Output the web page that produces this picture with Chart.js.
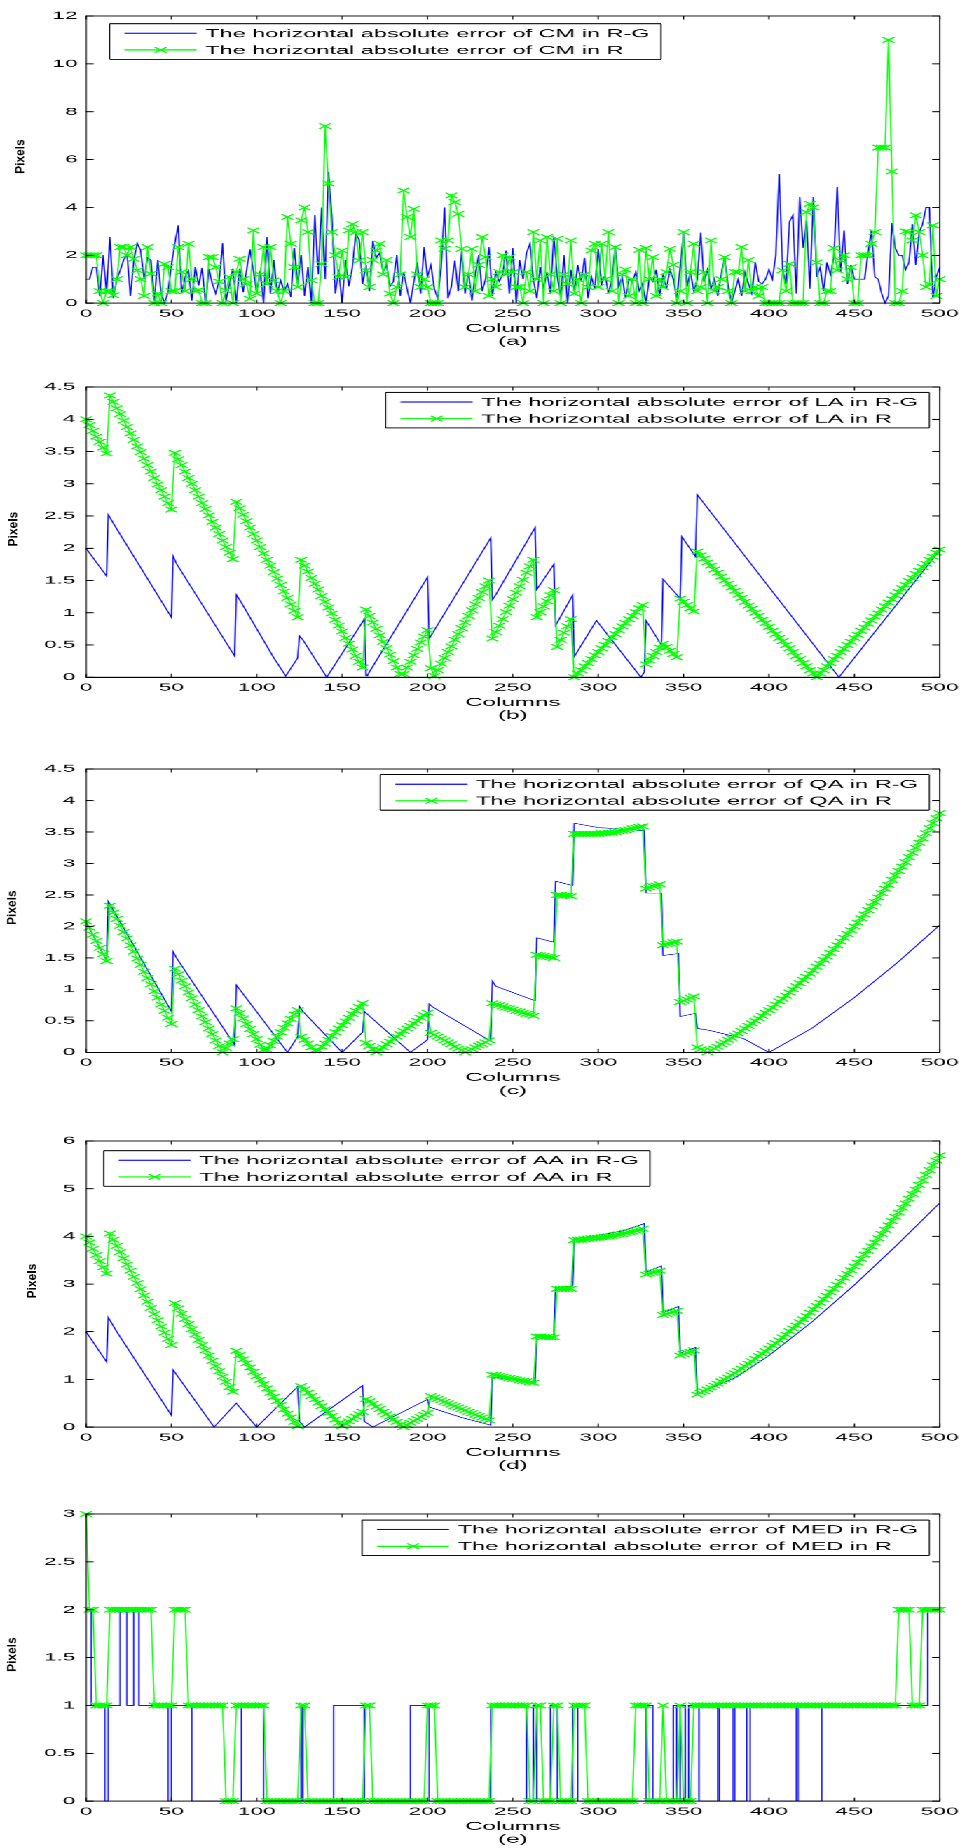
<!DOCTYPE html>
<html>
<head>
<meta charset="utf-8">
<title>Horizontal absolute error</title>
<script src="https://cdn.jsdelivr.net/npm/chart.js@4.4.1/dist/chart.umd.min.js"></script>
<style>
  html, body { margin: 0; padding: 0; background: #fff; overflow: hidden; width: 967px; height: 1848px; }
  /* the figure is laid out on a narrow sheet and widened 2.1x, like the exported figure */
  #sheet { position: absolute; left: 0; top: 0; width: 460px; height: 1848px; transform: scaleX(2.10217); transform-origin: 0 0; }
  #sheet canvas { position: absolute; left: 0; }
</style>
</head>
<body>
<div id="sheet">
  <canvas id="pa" width="460" height="345" style="top:4px"></canvas>
  <canvas id="pb" width="460" height="348" style="top:375px"></canvas>
  <canvas id="pc" width="460" height="341" style="top:757px"></canvas>
  <canvas id="pd" width="460" height="344" style="top:1129px"></canvas>
  <canvas id="pe" width="460" height="345" style="top:1502px"></canvas>
</div>
<script>
// ---- axes ----
const xTicks = [0, 50, 100, 150, 200, 250, 300, 350, 400, 450, 500];
const yTicksCM = [0, 2, 4, 6, 8, 10, 12];
const yTicksLA = [0, 0.5, 1, 1.5, 2, 2.5, 3, 3.5, 4, 4.5];
const yTicksQA = [0, 0.5, 1, 1.5, 2, 2.5, 3, 3.5, 4, 4.5];
const yTicksAA = [0, 1, 2, 3, 4, 5, 6];
const yTicksMED = [0, 0.5, 1, 1.5, 2, 2.5, 3];

// ---- legend texts ----
const labelsCM = ['The horizontal absolute error of CM in R-G', 'The horizontal absolute error of CM in R'];
const labelsLA = ['The horizontal absolute error of LA in R-G', 'The horizontal absolute error of LA in R'];
const labelsQA = ['The horizontal absolute error of QA in R-G', 'The horizontal absolute error of QA in R'];
const labelsAA = ['The horizontal absolute error of AA in R-G', 'The horizontal absolute error of AA in R'];
const labelsMED = ['The horizontal absolute error of MED in R-G', 'The horizontal absolute error of MED in R'];

// columns sampled every STEP columns (0, 2, 4, ... 500)
const STEP = 2;

// (a) CM, R-G (blue), one value per sampled column
const cmRG = [
  1.0,1.0,1.5,1.5,0.3,2.0,0.46,2.76,0.2,1.0,
  1.36,1.8,2.06,0.3,1.8,2.5,2.2,1.0,1.9,1.8,
  0.1,1.8,0.4,0.0,0.45,1.6,2.5,3.25,0.4,1.1,
  1.36,0.1,1.5,0.74,1.48,0.0,1.44,0.8,0.4,0.95,
  2.5,0.1,0.8,1.44,0.0,1.44,0.45,1.36,2.25,1.36,
  0.4,1.36,0.0,2.76,0.4,1.8,0.4,0.95,0.5,0.8,
  0.25,2.3,0.8,2.0,0.3,1.5,0.0,3.67,1.2,4.0,
  1.0,5.48,3.6,0.4,1.4,0.0,1.8,0.7,1.5,2.9,
  2.65,0.8,1.6,0.5,2.6,1.9,2.1,1.3,1.6,0.7,
  0.9,2.0,0.3,1.3,0.6,0.0,0.9,1.7,0.4,2.34,
  1.1,1.6,0.6,0.2,1.5,4.0,0.2,0.7,1.78,0.5,
  2.2,0.4,1.3,0.1,1.2,2.0,0.5,1.0,2.34,0.3,
  1.3,0.9,1.2,2.2,0.4,2.3,0.0,1.8,1.0,2.1,
  2.48,1.0,0.2,1.5,0.6,1.3,0.4,2.76,1.1,0.3,
  2.0,0.0,1.4,0.5,1.6,0.9,1.9,0.2,1.1,0.6,
  2.27,0.8,1.2,0.4,1.0,2.4,0.7,1.1,0.2,1.0,
  0.9,1.3,0.5,0.8,0.0,1.1,0.9,1.4,0.3,1.2,
  0.6,1.4,1.0,0.2,1.5,2.95,0.7,1.3,0.5,1.0,
  2.95,0.9,1.4,0.6,1.0,0.3,1.2,1.93,0.8,0.0,
  0.5,1.0,0.3,1.3,0.8,0.4,1.7,0.9,0.8,1.0,
  1.4,1.0,2.0,5.4,1.4,0.8,3.4,3.67,0.4,4.43,
  2.3,3.45,0.6,4.43,1.1,1.5,0.5,1.7,1.2,1.9,
  4.85,1.3,3.04,0.8,1.6,1.0,1.0,1.0,1.0,2.06,
  3.04,1.1,1.0,0.4,0.0,0.3,3.35,2.3,2.0,2.0,
  1.4,1.7,3.3,1.6,2.97,3.3,4.0,4.0,0.2,1.1,
  1.5
];
// (a) CM, R (green)
const cmR = [
  2.0,2.0,2.0,2.0,0.5,0.0,0.5,0.5,0.33,1.0,
  2.34,2.34,2.0,2.34,1.85,1.37,1.0,0.3,2.34,1.23,
  0.0,0.4,0.0,1.64,1.5,0.5,0.5,2.34,1.3,0.5,
  2.48,1.0,0.5,0.55,0.0,0.0,1.92,1.92,1.5,0.9,
  0.0,0.53,1.09,0.0,1.3,1.85,1.0,0.8,0.18,3.04,
  0.4,1.2,2.34,0.8,2.34,0.95,0.5,0.0,0.5,3.6,
  2.48,1.5,0.67,3.46,4.0,2.97,0.95,0.0,0.0,1.64,
  7.4,5.0,2.97,2.0,1.09,2.2,1.09,3.04,3.3,2.97,
  1.78,2.97,1.37,0.67,1.8,2.2,2.48,1.2,1.8,0.4,
  0.0,0.67,1.2,4.71,3.6,2.76,3.94,1.2,0.67,1.0,
  0.67,0.0,0.0,0.0,2.62,2.27,2.62,4.5,4.22,3.73,
  2.27,0.67,1.2,2.27,0.5,1.6,2.76,1.92,0.3,1.0,
  0.67,1.3,2.0,1.2,1.92,1.3,0.67,0.67,0.0,1.3,
  0.5,2.97,1.0,2.62,0.0,2.76,1.2,0.5,2.69,0.0,
  1.2,0.8,2.62,0.4,1.0,0.0,1.2,0.67,2.2,2.48,
  0.67,2.48,1.0,2.97,0.5,2.34,0.0,1.2,1.4,0.3,
  1.0,0.0,2.23,0.0,2.3,1.0,1.92,0.3,1.0,0.67,
  1.3,2.27,1.6,0.0,0.5,2.97,0.0,1.3,2.48,0.5,
  0.67,1.3,0.0,2.62,0.5,0.67,1.0,1.92,0.5,0.0,
  1.3,1.3,2.34,0.5,1.8,0.5,0.67,0.3,0.67,0.0,
  0.0,0.0,0.0,0.0,1.37,0.5,1.64,0.0,0.0,0.0,
  0.0,3.8,4.15,4.0,1.7,0.0,0.0,0.5,0.5,2.3,
  1.37,1.78,2.0,1.0,1.5,0.0,0.0,2.0,2.0,2.0,
  2.48,2.97,6.5,6.5,6.5,11.0,5.5,0.0,0.0,0.5,
  3.0,2.97,2.62,3.67,2.97,2.0,0.67,0.8,3.25,0.3,
  1.0
];

// (b) LA, R-G (blue): [column, value] corners of the trace
const laRG = [[0,2.0],[12,1.57],[13,2.52],[18,2.3],[50,0.93],[51,1.88],[53,1.76],[87,0.33],[88,1.28],[90,1.2],
  [110,0.3],[117,0.02],[124,0.3],[125,0.64],[127,0.58],[141,0.0],[163,0.9],[164,0.02],[165,0.04],[200,1.55],
  [201,0.6],[237,2.16],[238,1.2],[240,1.28],[263,2.32],[264,1.36],[274,1.75],[275,0.8],[285,1.27],[286,0.32],
  [299,0.88],[325,0.0],[327,0.08],[328,0.88],[337,0.5],[338,1.52],[348,1.22],[349,2.18],[357,1.87],[358,2.83],
  [441,0.0],[500,1.97]];
// (b) LA, R (green), sampled columns
const laR = [
  4.00,3.91,3.82,3.73,3.65,3.56,3.47,
  4.37,4.27,4.17,4.08,3.98,3.88,3.78,3.68,3.58,3.49,3.39,3.29,3.19,3.09,2.99,2.90,2.80,2.70,2.60,
  3.48,3.38,3.29,3.19,3.09,3.00,2.90,2.80,2.70,2.61,2.51,2.41,2.32,2.22,2.12,2.02,1.93,1.83,
  2.72,2.62,2.52,2.42,2.32,2.22,2.12,2.02,1.92,1.82,1.73,1.63,1.53,1.43,1.33,1.23,1.13,1.03,0.93,
  1.82,1.73,1.64,1.54,1.45,1.36,1.26,1.17,1.08,0.99,0.89,0.80,0.71,0.61,0.52,0.43,0.33,0.24,0.15,
  1.05,0.95,0.85,0.75,0.65,0.55,0.45,0.35,0.25,0.15,0.05,
  0.05,0.15,0.24,0.34,0.44,0.54,0.63,0.73,
  0.14,0.02,
  0.11,0.21,0.30,0.39,0.48,0.58,0.67,0.76,0.85,0.95,1.04,1.13,1.23,1.32,1.41,1.50,
  0.60,0.70,0.80,0.90,1.01,1.11,1.21,1.31,1.41,1.51,1.62,1.72,1.82,
  0.93,1.01,1.10,1.18,1.27,1.35,
  0.47,0.58,0.69,0.79,0.90,
  0.00,0.06,0.11,0.17,0.22,0.28,0.34,0.39,0.45,0.50,0.56,0.62,0.67,0.73,0.79,0.84,0.90,0.95,1.01,1.07,1.12,
  0.20,0.26,0.33,0.39,0.46,0.52,
  0.47,0.41,0.36,0.31,
  1.22,1.17,1.12,1.07,1.02,
  1.95,1.89,1.84,1.78,1.73,1.67,1.62,1.56,1.50,1.45,1.39,1.34,1.28,1.23,1.17,1.11,1.06,1.00,
  0.95,0.89,0.84,0.78,0.72,0.67,0.61,0.56,0.50,0.45,0.39,0.33,0.28,0.22,0.17,0.11,0.06,0.00,
  0.06,0.11,0.17,0.22,0.28,0.33,0.39,0.44,0.50,0.55,0.61,0.66,0.72,0.77,0.83,0.88,0.94,0.99,
  1.05,1.10,1.16,1.21,1.27,1.32,1.38,1.43,1.49,1.54,1.60,1.65,1.71,1.76,1.82,1.87,1.93,1.98
];

// (c) QA, R-G (blue)
const qaRG = [[0,2.07],[12,1.46],[13,2.4],[50,0.65],[51,1.6],[53,1.5],[87,0.12],[88,1.07],[90,1.0],[118,0.0],
  [124,0.25],[125,0.73],[127,0.65],[150,0.0],[162,0.32],[163,0.65],[190,0.0],[200,0.2],[201,0.77],[203,0.72],
  [237,0.18],[238,1.13],[240,1.05],[263,0.82],[264,1.82],[274,1.75],[275,2.72],[285,2.65],[286,3.64],[300,3.57],
  [327,3.52],[328,2.53],[337,2.53],[338,1.54],[347,1.57],[348,0.57],[357,0.62],[358,0.38],[365,0.35],[385,0.22],
  [400,0.0],[425,0.38],[450,0.87],[475,1.42],[500,2.02]];
// (c) QA, R (green)
const qaR = [
  2.08,1.98,1.87,1.77,1.66,1.56,1.45,
  2.33,2.22,2.12,2.01,1.91,1.81,1.70,1.60,1.49,1.39,1.28,1.18,1.08,0.97,0.87,0.76,0.66,0.55,0.45,
  1.33,1.24,1.14,1.05,0.95,0.86,0.76,0.67,0.57,0.48,0.38,0.29,0.19,0.10,0.00,
  0.07,0.14,0.21,
  0.70,0.62,0.54,0.45,0.37,0.29,0.21,0.12,0.04,
  0.04,0.11,0.18,0.25,0.32,0.39,0.46,0.53,0.60,0.67,
  0.25,0.20,0.14,0.08,0.03,
  0.03,0.09,0.14,0.20,0.26,0.32,0.38,0.43,0.49,0.55,0.61,0.66,0.72,0.78,
  0.15,0.10,0.05,0.00,
  0.04,0.08,0.13,0.17,0.21,0.25,0.29,0.34,0.38,0.42,0.46,0.50,0.55,0.59,0.63,
  0.31,0.28,0.25,0.22,0.19,0.16,0.13,0.09,0.06,0.03,0.00,
  0.03,0.05,0.08,0.11,0.13,0.16,0.19,
  0.78,0.76,0.75,0.73,0.71,0.70,0.68,0.66,0.65,0.63,0.61,0.60,0.58,
  1.55,1.54,1.53,1.52,1.51,1.50,
  2.50,2.50,2.49,2.49,2.48,
  3.47,3.47,3.47,3.47,3.47,3.47,3.47,3.47,3.48,3.48,3.49,3.49,3.50,3.51,3.52,3.53,3.54,3.56,3.57,3.58,3.59,
  2.60,2.62,2.64,2.65,2.67,
  1.70,1.72,1.73,1.75,1.76,
  0.80,0.82,0.84,0.87,0.89,
  0.08,0.05,0.03,0.00,
  0.03,0.06,0.09,0.13,0.16,0.20,0.23,0.27,0.30,0.34,0.38,0.42,0.46,0.50,0.54,0.58,0.63,0.67,0.71,0.76,
  0.81,0.85,0.90,0.95,1.00,1.05,1.10,1.15,1.20,1.25,1.30,1.36,1.41,1.47,1.52,1.58,1.64,1.70,1.76,1.82,
  1.88,1.94,2.00,2.06,2.13,2.19,2.26,2.32,2.39,2.46,2.53,2.60,2.66,2.74,2.81,2.88,2.95,3.02,3.10,3.17,
  3.25,3.33,3.40,3.48,3.56,3.64,3.72,3.80
];

// (d) AA, R-G (blue)
const aaRG = [[0,2.0],[12,1.37],[13,2.3],[18,2.0],[50,0.25],[51,1.2],[75,0.0],[88,0.5],[100,0.0],[124,0.85],
  [125,0.12],[128,0.0],[162,0.87],[163,0.12],[168,0.0],[190,0.4],[200,0.58],[201,0.42],[220,0.2],[237,0.04],
  [238,1.05],[263,0.93],[264,1.92],[274,1.9],[275,2.93],[285,2.96],[286,3.95],[300,4.02],[315,4.12],[327,4.27],
  [328,3.25],[337,3.38],[338,2.4],[347,2.53],[348,1.55],[357,1.67],[358,0.7],[380,1.03],[400,1.5],[425,2.2],
  [450,2.98],[475,3.82],[500,4.7]];
// (d) AA, R (green)
const aaR = [
  4.00,3.87,3.74,3.61,3.48,3.35,3.22,
  4.06,3.93,3.80,3.67,3.54,3.41,3.28,3.15,3.02,2.89,2.76,2.63,2.50,2.37,2.24,2.11,1.98,1.85,1.72,
  2.60,2.49,2.38,2.27,2.16,2.05,1.94,1.83,1.72,1.61,1.50,1.39,1.28,1.17,1.06,0.95,0.84,0.74,
  1.60,1.51,1.42,1.34,1.25,1.16,1.07,0.99,0.90,0.81,0.72,0.63,0.55,0.46,0.37,0.28,0.20,0.11,0.02,
  0.86,0.79,0.72,0.65,0.58,0.51,0.44,0.37,0.30,0.23,0.16,0.09,0.02,
  0.07,0.12,0.17,0.22,0.27,0.32,
  0.59,0.54,0.49,0.43,0.38,0.32,0.27,0.22,0.16,0.11,0.05,0.00,
  0.04,0.09,0.13,0.17,0.21,0.26,0.30,
  0.65,0.62,0.59,0.56,0.53,0.50,0.47,0.44,0.41,0.38,0.35,0.32,0.29,0.26,0.23,0.20,0.17,0.14,
  1.10,1.09,1.07,1.06,1.04,1.03,1.01,1.00,0.98,0.97,0.96,0.94,0.93,
  1.90,1.90,1.89,1.89,1.88,1.88,
  2.90,2.90,2.90,2.90,2.90,
  3.92,3.93,3.93,3.94,3.95,3.96,3.97,3.97,3.98,3.99,4.00,4.01,4.03,4.04,4.05,4.07,4.09,4.10,4.12,4.14,4.16,
  3.20,3.22,3.24,3.26,3.28,
  2.35,2.37,2.40,2.42,2.44,
  1.50,1.53,1.56,1.58,1.61,
  0.68,0.72,0.75,0.79,0.83,0.87,0.91,0.96,1.00,1.04,1.09,1.13,1.18,1.23,1.28,1.33,1.38,1.43,1.49,1.54,
  1.59,1.65,1.71,1.76,1.82,1.88,1.94,2.01,2.07,2.13,2.20,2.26,2.33,2.40,2.47,2.54,2.61,2.68,2.75,2.83,
  2.90,2.98,3.05,3.13,3.21,3.29,3.37,3.45,3.53,3.62,3.70,3.79,3.87,3.96,4.05,4.14,4.23,4.32,4.41,4.50,
  4.60,4.69,4.79,4.89,4.98,5.08,5.18,5.29,5.39,5.49,5.59,5.70
];

// (e) MED, R-G (blue): [column where the level changes, new level]
const medRG = [[0,2],[3,1],[11,0],[13,1],[20,2],[24,1],[28,2],[31,1],[48,0],[50,1],[62,0],[91,1],[104,0],
  [126,1],[127,0],[145,1],[163,0],[190,1],[201,0],[237,1],[258,0],[262,1],[264,0],[272,1],[276,0],[285,1],
  [288,0],[328,1],[332,0],[344,1],[346,0],[348,1],[351,0],[353,1],[359,0],[370,1],[371,0],[379,1],[380,0],
  [387,1],[389,0],[416,1],[417,0],[431,1],[493,2],[500,2]];
// (e) MED, R (green)
const medR = [
  3,2,2,1,1,1,1,
  2,2,2,2,2,2,2,2,2,2,2,2,2,
  1,1,1,1,1,1,
  2,2,2,2,
  1,1,1,1,1,1,1,1,1,1,1,
  0,0,0,
  1,1,1,1,1,1,1,1,1,
  0,0,0,0,0,0,0,0,0,0,
  1,1,
  0,0,0,0,0,0,0,0,0,0,0,0,0,0,0,0,0,
  1,1,
  0,0,0,0,0,0,0,0,0,0,0,0,0,0,0,0,
  1,1,1,
  0,0,0,0,0,0,0,0,0,0,0,0,0,0,0,0,
  1,1,1,1,1,1,1,1,1,1,1,
  0,0,
  1,1,
  0,0,0,
  1,1,
  0,0,0,0,
  1,1,1,1,
  0,0,0,0,0,0,0,0,0,0,0,0,0,0,
  1,1,1,1,
  0,0,0,0,
  1,
  0,0,0,0,
  1,
  0,0,0,
  1,1,1,1,1,1,1,1,1,1,
  1,1,1,1,1,1,1,1,1,1,
  1,1,1,1,1,1,1,1,1,1,
  1,1,1,1,1,1,1,1,1,1,
  1,1,1,1,1,1,1,1,1,1,
  1,1,1,1,1,1,1,1,1,1,
  2,2,2,2,
  1,1,1,
  2,2,2,2,2,2
];

// ---- drawing ----
const SX = 967 / 460;               // horizontal widening of the sheet
const FONT = '"Liberation Sans", Arial, Helvetica, sans-serif';
const BLUE = '#0000ff';
const GREEN = '#00ff00';
const LW = 0.65;

const sampled = vals => vals.map((v, i) => ({ x: i * STEP, y: v }));
const corners = pairs => pairs.map(p => ({ x: p[0], y: p[1] }));

// box around the axes with inward tick marks on all four sides
const frame = {
  id: 'frame',
  afterDatasetsDraw(chart) {
    const { ctx, chartArea: a, scales: { x, y } } = chart;
    const seg = (x1, y1, x2, y2) => { ctx.beginPath(); ctx.moveTo(x1, y1); ctx.lineTo(x2, y2); ctx.stroke(); };
    ctx.save();
    ctx.strokeStyle = '#000';
    ctx.lineWidth = 1;
    y.ticks.forEach(t => {
      const py = y.getPixelForValue(t.value);
      seg(a.left, py, a.left + 3.6, py);
      seg(a.right, py, a.right - 3.6, py);
    });
    seg(a.left, a.top, a.right, a.top);
    seg(a.left, a.bottom, a.right, a.bottom);
    ctx.lineWidth = 0.55;
    x.ticks.forEach(t => {
      const px = x.getPixelForValue(t.value);
      seg(px, a.bottom, px, a.bottom - 3.5);
      seg(px, a.top, px, a.top + 3.5);
    });
    seg(a.left, a.top - 0.5, a.left, a.bottom + 0.5);
    seg(a.right, a.top - 0.5, a.right, a.bottom + 0.5);
    ctx.restore();
  }
};

// boxed legend inside the axes
const boxLegend = {
  id: 'boxLegend',
  afterDraw(chart, args, o) {
    const { ctx, chartArea: a } = chart;
    const sets = chart.data.datasets;
    ctx.save();
    ctx.font = '11.2px ' + FONT;
    const tw = Math.max(...sets.map(d => ctx.measureText(d.label).width));
    const w = 45.5 + tw + 5.4, h = 35.5;
    const left = o.corner === 'tl' ? a.left + o.dx : a.right - o.dx - w;
    const top = a.top + o.dy;
    ctx.fillStyle = '#fff';
    ctx.fillRect(left, top, w, h);
    ctx.strokeStyle = '#000';
    const seg = (x1, y1, x2, y2) => { ctx.beginPath(); ctx.moveTo(x1, y1); ctx.lineTo(x2, y2); ctx.stroke(); };
    ctx.lineWidth = 1;
    seg(left, top, left + w, top);
    seg(left, top + h, left + w, top + h);
    ctx.lineWidth = 0.55;
    seg(left, top, left, top + h);
    seg(left + w, top, left + w, top + h);
    sets.forEach((d, i) => {
      const ty = top + (i === 0 ? 10.3 : 27);
      const ly = ty - 0.8;
      ctx.strokeStyle = d.borderColor;
      ctx.lineWidth = 1.1;
      seg(left + 7.1, ly, left + 41.4, ly);
      if (d.pointRadius > 0) {
        const cx = left + 24.3, r = d.pointRadius * 0.707;
        ctx.lineWidth = d.pointBorderWidth;
        seg(cx - r, ly - r, cx + r, ly + r);
        seg(cx - r, ly + r, cx + r, ly - r);
      }
      ctx.fillStyle = '#000';
      ctx.textBaseline = 'middle';
      ctx.textAlign = 'left';
      ctx.fillText(d.label, left + 45.5, ty);
    });
    ctx.restore();
  }
};

// rotated, narrow "Pixels" label
const sideTitle = {
  id: 'sideTitle',
  afterDraw(chart, args, o) {
    const { ctx, chartArea: a } = chart;
    ctx.save();
    ctx.translate(o.x, (a.top + a.bottom) / 2 - 3);
    ctx.rotate(-Math.PI / 2);
    ctx.scale(1, 0.47);
    ctx.font = 'bold 12px ' + FONT;
    ctx.fillStyle = '#000';
    ctx.textAlign = 'center';
    ctx.textBaseline = 'middle';
    ctx.fillText(o.text, 0, 0);
    ctx.restore();
  }
};

function panel(id, blue, green, labels, yTicks, letter, legendPos, titleX, tickPad, blueStepped) {
  const tickFont = { family: FONT, size: 10.8 };
  new Chart(document.getElementById(id), {
    type: 'line',
    data: {
      datasets: [
        { label: labels[0], data: blue, borderColor: BLUE, backgroundColor: BLUE, borderWidth: LW,
          pointRadius: 0, tension: 0, stepped: blueStepped ? 'before' : false, order: 1, clip: 4 },
        { label: labels[1], data: green, borderColor: GREEN, backgroundColor: GREEN, borderWidth: LW,
          pointStyle: 'crossRot', pointRadius: 3.9, pointBorderWidth: 1.0,
          pointBorderColor: GREEN, pointBackgroundColor: GREEN, tension: 0, order: 0, clip: 4 }
      ]
    },
    options: {
      responsive: false,
      animation: false,
      devicePixelRatio: SX,
      events: [],
      layout: { padding: { top: 12, right: 460 - 448.8, left: 0, bottom: 0 } },
      scales: {
        x: {
          type: 'linear', min: 0, max: 500,
          afterBuildTicks: s => { s.ticks = xTicks.map(v => ({ value: v })); },
          afterFit: s => { s.height = 46; },
          grid: { display: false, drawTicks: false },
          border: { display: false },
          ticks: { color: '#000', font: tickFont, padding: 4, maxRotation: 0, autoSkip: false, callback: v => String(v) },
          title: { display: true, text: ['Columns', '(' + letter + ')'], color: '#000',
                   font: { family: FONT, size: 11.5, lineHeight: '13px' }, padding: { top: 0, bottom: 1 } }
        },
        y: {
          min: yTicks[0], max: yTicks[yTicks.length - 1],
          afterBuildTicks: s => { s.ticks = yTicks.map(v => ({ value: v })); },
          afterFit: s => { s.width = 86 / SX; },
          grid: { display: false, drawTicks: false },
          border: { display: false },
          ticks: { color: '#000', font: tickFont, padding: tickPad, autoSkip: false, callback: v => String(v) }
        }
      },
      plugins: {
        legend: { display: false },
        tooltip: { enabled: false },
        boxLegend: legendPos,
        sideTitle: { x: titleX, text: 'Pixels' }
      }
    },
    plugins: [frame, boxLegend, sideTitle]
  });
}

panel('pa', sampled(cmRG), sampled(cmR), labelsCM, yTicksCM, 'a', { corner: 'tl', dx: 11.2, dy: 7.7 }, 9.85, 4, false);
panel('pb', corners(laRG), sampled(laR), labelsLA, yTicksLA, 'b', { corner: 'tr', dx: 5.0, dy: 5.4 }, 6.4, 5, false);
panel('pc', corners(qaRG), sampled(qaR), labelsQA, yTicksQA, 'c', { corner: 'tr', dx: 5.0, dy: 5.6 }, 5.85, 5, false);
panel('pd', corners(aaRG), sampled(aaR), labelsAA, yTicksAA, 'd', { corner: 'tl', dx: 8.4, dy: 9.7 }, 15.4, 5, false);
panel('pe', corners(medRG), sampled(medR), labelsMED, yTicksMED, 'e', { corner: 'tr', dx: 5.0, dy: 6.0 }, 5.85, 5, true);
</script>
</body>
</html>
